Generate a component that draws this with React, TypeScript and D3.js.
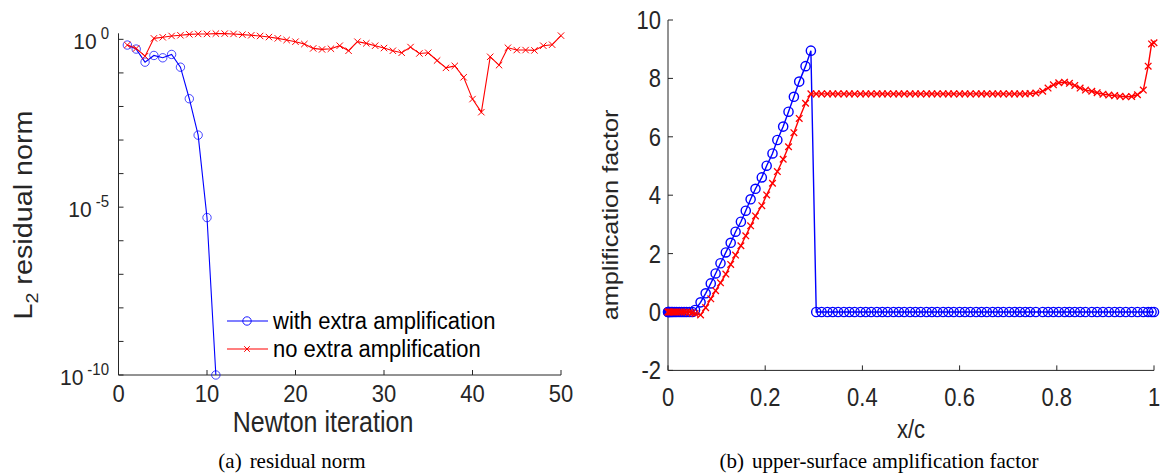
import React from "react";
import * as d3 from "d3";

// (a) residual norm vs Newton iteration
const iterWith = [1, 2, 3, 4, 5, 6, 7, 8, 9, 10, 11];
const resWith = [0.676, 0.513, 0.209, 0.331, 0.282, 0.355, 0.148, 0.017, 0.0014, 4.9e-6, 1e-10];

const iterNo = [
  1, 2, 3, 4, 5, 6, 7, 8, 9, 10, 11, 12, 13, 14, 15, 16, 17, 18, 19, 20, 21, 22, 23, 24, 25,
  26, 27, 28, 29, 30, 31, 32, 33, 34, 35, 36, 37, 38, 39, 40, 41, 42, 43, 44, 45, 46, 47, 48, 49, 50,
];
const resNo = [
  0.676, 0.537, 0.316, 1.07, 1.15, 1.26, 1.32, 1.41, 1.45, 1.45, 1.48, 1.48, 1.45, 1.38, 1.32,
  1.26, 1.17, 1.07, 0.955, 0.851, 0.724, 0.537, 0.501, 0.525, 0.646, 0.457, 0.851, 0.759, 0.646,
  0.55, 0.457, 0.398, 0.589, 0.38, 0.398, 0.234, 0.141, 0.162, 0.0741, 0.0166, 0.00676, 0.302,
  0.17, 0.562, 0.479, 0.479, 0.468, 0.646, 0.692, 1.29,
];

// (b) upper-surface amplification factor vs x/c
const xc = [
  0, 0.0005, 0.002, 0.004, 0.007, 0.01, 0.014, 0.018, 0.023, 0.028, 0.033, 0.038, 0.044, 0.05,
  0.0556, 0.067, 0.0775, 0.088, 0.098, 0.108, 0.119, 0.129, 0.139, 0.15, 0.16, 0.17, 0.18, 0.193,
  0.203, 0.215, 0.225, 0.237, 0.248, 0.259, 0.27, 0.283, 0.294,
  0.305, 0.316, 0.328, 0.339, 0.35, 0.362, 0.373, 0.384, 0.396, 0.407, 0.418, 0.43, 0.441, 0.452,
  0.464, 0.475, 0.486, 0.498, 0.509, 0.52, 0.532, 0.543, 0.554, 0.566, 0.577, 0.588, 0.6, 0.611,
  0.622, 0.634, 0.645, 0.656, 0.668, 0.679, 0.69, 0.702, 0.713, 0.724, 0.735,
  0.745, 0.757, 0.771, 0.782, 0.793, 0.804, 0.816, 0.826, 0.837, 0.848, 0.859, 0.872, 0.883,
  0.895, 0.907, 0.919, 0.93, 0.942, 0.954, 0.966, 0.978, 0.988, 0.995, 1.0,
];
const ampWith = [
  0, 0, 0, 0, 0, 0, 0, 0, 0, 0, 0, 0, 0, 0,
  0.07, 0.33, 0.64, 0.98, 1.32, 1.67, 2.04, 2.37, 2.75, 3.09, 3.47, 3.86, 4.22, 4.61,
  5.01, 5.43, 5.89, 6.35, 6.86, 7.37, 7.89, 8.42, 8.95,
  0, 0, 0, 0, 0, 0, 0, 0, 0, 0, 0, 0, 0, 0,
  0, 0, 0, 0, 0, 0, 0, 0, 0, 0, 0, 0, 0, 0,
  0, 0, 0, 0, 0, 0, 0, 0, 0, 0, 0,
  0, 0, 0, 0, 0, 0, 0, 0, 0, 0, 0, 0, 0,
  0, 0, 0, 0, 0, 0, 0, 0, 0, 0, 0,
];
const ampNo = [
  0, 0, 0, 0, 0, 0, 0, 0, 0, 0, 0, 0, -0.01, -0.03,
  -0.05, -0.1, 0.15, 0.45, 0.73, 1.0, 1.3, 1.63, 1.95, 2.27, 2.61, 2.95, 3.29, 3.64,
  4.01, 4.41, 4.81, 5.23, 5.66, 6.14, 6.63, 7.15, 7.47,
  7.47, 7.47, 7.47, 7.47, 7.47, 7.47, 7.47, 7.47, 7.47, 7.47, 7.47, 7.47, 7.47, 7.47,
  7.47, 7.47, 7.47, 7.47, 7.47, 7.47, 7.47, 7.47, 7.47, 7.47, 7.47, 7.47, 7.47, 7.47,
  7.47, 7.47, 7.47, 7.47, 7.47, 7.47, 7.47, 7.47, 7.47, 7.47, 7.47,
  7.48, 7.5, 7.56, 7.67, 7.78, 7.85, 7.87, 7.83, 7.76, 7.67, 7.6, 7.56, 7.51,
  7.46, 7.43, 7.41, 7.39, 7.37, 7.38, 7.44, 7.6, 8.42, 9.18, 9.22,
];

const leftXTicks = [0, 10, 20, 30, 40, 50];
const leftYLabels = [
  { v: 1, exp: "0" },
  { v: 1e-5, exp: "-5" },
  { v: 1e-10, exp: "-10" },
];
const rightXTicks = [0, 0.2, 0.4, 0.6, 0.8, 1];
const rightYTicks = [-2, 0, 2, 4, 6, 8, 10];

const BLUE = "#0000ff";
const RED = "#ff0000";
const AX = "#262626";
const SANS = "'Liberation Sans', Arial, Helvetica, sans-serif";
const SERIF = "'Liberation Serif', 'Times New Roman', serif";

// the exported figure was stretched more vertically than horizontally,
// so text gets a vertical scale factor k
const SText = ({
  x, y, k = 1, rot = false, size, anchor = "start", children,
}: {
  x: number; y: number; k?: number; rot?: boolean; size: number; anchor?: string; children: any;
}) => (
  <text
    transform={`translate(${x},${y}) scale(1,${k})${rot ? " rotate(-90)" : ""}`}
    fontSize={size}
    textAnchor={anchor as any}
  >
    {children}
  </text>
);

const Cross = ({ x, y, s, w }: { x: number; y: number; s: number; w: number }) => (
  <path
    d={`M${x - s},${y - s}L${x + s},${y + s}M${x - s},${y + s}L${x + s},${y - s}`}
    stroke={RED}
    strokeWidth={w}
    fill="none"
  />
);

export default function App() {
  // left panel scales
  const lx = d3.scaleLinear().domain([0, 50]).range([118.5, 561]);
  const ly = d3.scaleLog().domain([1e-10, Math.pow(10, 0.18)]).range([375, 33.3]);
  const lLine = d3
    .line<[number, number]>()
    .x((d) => lx(d[0]))
    .y((d) => ly(d[1]));
  const decades = d3.range(-10, 1).map((e) => Math.pow(10, e));

  // right panel scales
  const rx = d3.scaleLinear().domain([0, 1]).range([668, 1154]);
  const ry = d3.scaleLinear().domain([-2, 10]).range([370.4, 20]);
  const rLine = d3
    .line<[number, number]>()
    .x((d) => rx(d[0]))
    .y((d) => ry(d[1]));

  const withPts = iterWith.map((n, i) => [n, resWith[i]] as [number, number]);
  const noPts = iterNo.map((n, i) => [n, resNo[i]] as [number, number]);
  const ampWithPts = xc.map((x, i) => [x, ampWith[i]] as [number, number]);
  const ampNoPts = xc.map((x, i) => [x, ampNo[i]] as [number, number]);

  return (
    <svg width={1161} height={475} style={{ display: "block", position: "absolute", left: 0, top: 0, background: "#fff" }}>
      <rect width={1161} height={475} fill="#fff" />
      {/* ---------- left panel ---------- */}
      <g fontFamily={SANS} fill={AX}>
        <line x1={lx(0)} x2={lx(0)} y1={ly.range()[1]} y2={ly.range()[0]} stroke={AX} strokeWidth={1} />
        <line x1={lx(0)} x2={lx(50)} y1={ly.range()[0]} y2={ly.range()[0]} stroke={AX} strokeWidth={1} />
        {decades.map((d) => (
          <line key={d} x1={lx(0)} x2={lx(0) + 5} y1={ly(d)} y2={ly(d)} stroke={AX} strokeWidth={1} />
        ))}
        {leftXTicks.map((t) => (
          <g key={t}>
            <line x1={lx(t)} x2={lx(t)} y1={375} y2={370} stroke={AX} strokeWidth={1} />
            <SText x={lx(t)} y={402} k={1.05} size={22} anchor="middle">
              {t}
            </SText>
          </g>
        ))}
        {leftYLabels.map((l) => (
          <SText key={l.exp} x={109} y={ly(l.v) + 10} k={1.05} size={21} anchor="end">
            <tspan>10</tspan>
            <tspan dx={4} dy={-10} fontSize={15}>
              {l.exp}
            </tspan>
          </SText>
        ))}
        <SText x={323} y={432} k={1.15} size={25} anchor="middle">
          Newton iteration
        </SText>
        <SText x={32} y={215} k={1.15} size={25} rot anchor="middle">
          L<tspan dy={6} fontSize={17}>2</tspan>
          <tspan dy={-6}> residual norm</tspan>
        </SText>
      </g>
      <path d={lLine(withPts) || ""} fill="none" stroke={BLUE} strokeWidth={1.1} />
      {withPts.map((p, i) => (
        <circle key={i} cx={lx(p[0])} cy={ly(p[1])} r={4.2} fill="none" stroke={BLUE} strokeWidth={0.9} strokeOpacity={0.8} />
      ))}
      <path d={lLine(noPts) || ""} fill="none" stroke={RED} strokeWidth={1.1} />
      {noPts.map((p, i) => (
        <Cross key={i} x={lx(p[0])} y={ly(p[1])} s={3.2} w={1} />
      ))}
      {/* legend */}
      <g fontFamily={SANS} fill="#000">
        <line x1={227} x2={268} y1={321} y2={321} stroke={BLUE} strokeWidth={1.1} />
        <circle cx={247} cy={321} r={4.2} fill="none" stroke={BLUE} strokeWidth={0.9} />
        <SText x={273} y={329} k={1.1} size={22}>with extra amplification</SText>
        <line x1={227} x2={268} y1={349} y2={349} stroke={RED} strokeWidth={1.1} />
        <Cross x={247} y={349} s={2.8} w={1} />
        <SText x={273} y={357} k={1.1} size={22}>no extra amplification</SText>
      </g>

      {/* ---------- right panel ---------- */}
      <g fontFamily={SANS} fill={AX}>
        <line x1={rx(0)} x2={rx(0)} y1={ry(10)} y2={ry(-2)} stroke={AX} strokeWidth={1} />
        <line x1={rx(0)} x2={rx(1)} y1={ry(-2)} y2={ry(-2)} stroke={AX} strokeWidth={1} />
        {rightYTicks.map((t) => (
          <g key={t}>
            <line x1={rx(0)} x2={rx(0) + 5} y1={ry(t)} y2={ry(t)} stroke={AX} strokeWidth={1} />
            <SText x={661} y={ry(t) + 9} k={1.2} size={22} anchor="end">
              {t}
            </SText>
          </g>
        ))}
        {rightXTicks.map((t) => (
          <g key={t}>
            <line x1={rx(t)} x2={rx(t)} y1={ry(-2)} y2={ry(-2) - 5} stroke={AX} strokeWidth={1} />
            <SText x={rx(t)} y={406} k={1.2} size={22} anchor="middle">
              {d3.format("~g")(t)}
            </SText>
          </g>
        ))}
        <SText x={rx(0.5)} y={438} k={1.2} size={22} anchor="middle">
          x/c
        </SText>
        <SText x={618} y={215} k={1.15} size={22} rot anchor="middle">
          amplification factor
        </SText>
      </g>
      <path d={rLine(ampWithPts) || ""} fill="none" stroke={BLUE} strokeWidth={1.4} />
      {ampWithPts.map((p, i) => (
        <circle key={i} cx={rx(p[0])} cy={ry(p[1])} r={4.6} fill="none" stroke={BLUE} strokeWidth={1.4} />
      ))}
      <path d={rLine(ampNoPts) || ""} fill="none" stroke={RED} strokeWidth={1.4} />
      {ampNoPts.map((p, i) => (
        <Cross key={i} x={rx(p[0])} y={ry(p[1])} s={3.3} w={1.3} />
      ))}

      {/* captions */}
      <g fontFamily={SERIF} fontSize={21} fill="#000">
        <text x={292} y={468} textAnchor="middle">
          (a)<tspan dx={8}>residual norm</tspan>
        </text>
        <text x={879} y={468} textAnchor="middle">
          (b)<tspan dx={8}>upper-surface amplification factor</tspan>
        </text>
      </g>
    </svg>
  );
}
